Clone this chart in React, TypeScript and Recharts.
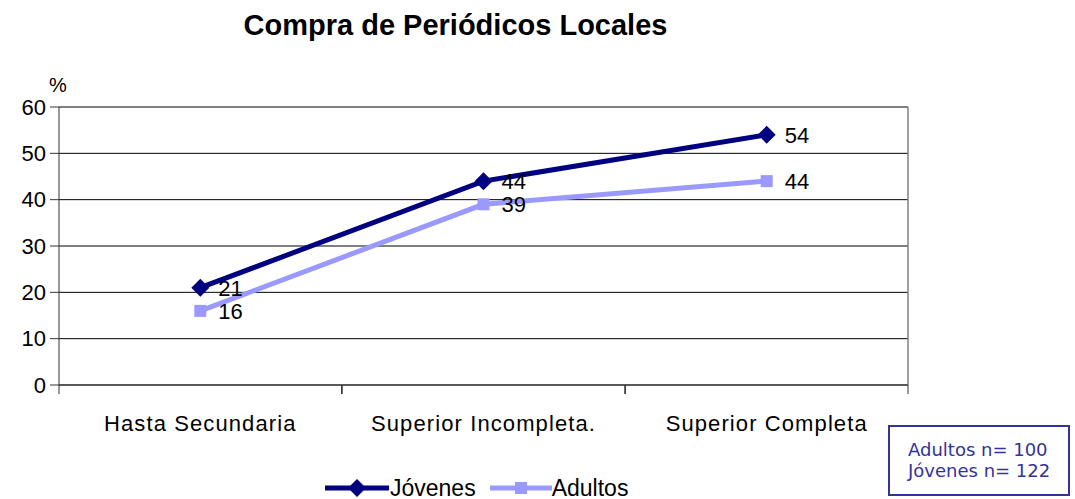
import React from "react";
import {
  LineChart,
  Line,
  XAxis,
  YAxis,
  CartesianGrid,
  LabelList,
} from "recharts";

const categories = ["Hasta Secundaria", "Superior Incompleta.", "Superior Completa"];
const jovenes = [21, 44, 54];
const adultos = [16, 39, 44];
const yTicks = [0, 10, 20, 30, 40, 50, 60];

const data = categories.map((name, i) => ({
  name,
  jovenes: jovenes[i],
  adultos: adultos[i],
}));

const FONT = '"Liberation Sans", Arial, sans-serif';
const NAVY = "#000080";
const LILAC = "#9999FF";
const HALF_BAND = 141.3;

function Diamond({ cx, cy }: any) {
  if (cx == null || cy == null) return null;
  const s = 9;
  return (
    <path
      d={`M${cx},${cy - s} L${cx + s},${cy} L${cx},${cy + s} L${cx - s},${cy} Z`}
      fill={NAVY}
    />
  );
}

function Square({ cx, cy }: any) {
  if (cx == null || cy == null) return null;
  const s = 6;
  return <rect x={cx - s} y={cy - s} width={s * 2} height={s * 2} fill={LILAC} />;
}

// category label in the middle, tick marks on the band edges (Excel style)
function XTick({ x, y, payload }: any) {
  return (
    <g>
      <line x1={x - HALF_BAND} y1={y} x2={x - HALF_BAND} y2={y + 9} stroke="#333" />
      <line x1={x + HALF_BAND} y1={y} x2={x + HALF_BAND} y2={y + 9} stroke="#333" />
      <text
        x={x}
        y={y + 46}
        textAnchor="middle"
        fontSize={22}
        fontFamily={FONT}
        letterSpacing={1.1}
        fill="#000"
      >
        {payload.value}
      </text>
    </g>
  );
}

export default function App() {
  return (
    <div
      style={{
        position: "absolute",
        left: 0,
        top: 0,
        width: 1075,
        height: 499,
        background: "#fff",
        fontFamily: FONT,
      }}
    >
      <div
        style={{
          position: "absolute",
          left: 0,
          width: 911,
          top: 9,
          textAlign: "center",
          fontSize: 29,
          fontWeight: "bold",
          color: "#000",
        }}
      >
        Compra de Periódicos Locales
      </div>
      <div style={{ position: "absolute", left: 49, top: 74, fontSize: 20 }}>%</div>

      <LineChart
        width={1075}
        height={499}
        data={data}
        margin={{ top: 107, right: 167, left: 0, bottom: 0 }}
      >
        <CartesianGrid vertical={false} stroke="#000" strokeWidth={1} />
        {/* gray frame on the top and right of the plot area */}
        <CartesianGrid
          stroke="#808080"
          strokeWidth={1.5}
          horizontalCoordinatesGenerator={({ offset }: any) => [offset.top]}
          verticalCoordinatesGenerator={({ offset }: any) => [offset.left + offset.width]}
        />
        <XAxis
          dataKey="name"
          height={114}
          stroke="#333"
          padding={{ left: HALF_BAND, right: HALF_BAND }}
          tickLine={false}
          tickSize={0}
          tickMargin={0}
          tick={<XTick />}
          interval={0}
        />
        <YAxis
          width={59}
          domain={[0, 60]}
          ticks={yTicks}
          stroke="#333"
          tickSize={9}
          tickMargin={4}
          tick={{ fontSize: 22, fill: "#000", fontFamily: FONT }}
        />
        <Line
          dataKey="adultos"
          stroke={LILAC}
          strokeWidth={5}
          dot={<Square />}
          activeDot={false}
          isAnimationActive={false}
        >
          <LabelList dataKey="adultos" position="right" offset={18} fontSize={22} fill="#000" fontFamily={FONT} />
        </Line>
        <Line
          dataKey="jovenes"
          stroke={NAVY}
          strokeWidth={5}
          dot={<Diamond />}
          activeDot={false}
          isAnimationActive={false}
        >
          <LabelList dataKey="jovenes" position="right" offset={18} fontSize={22} fill="#000" fontFamily={FONT} />
        </Line>
      </LineChart>

      <div
        style={{
          position: "absolute",
          top: 474,
          left: 325,
          display: "flex",
          alignItems: "center",
          fontSize: 23,
          lineHeight: "28px",
        }}
      >
        <svg width={64} height={20}>
          <line x1={0} y1={10} x2={64} y2={10} stroke={NAVY} strokeWidth={5} />
          <path d="M32,1 L41,10 L32,19 L23,10 Z" fill={NAVY} />
        </svg>
        <span style={{ marginLeft: 1 }}>Jóvenes</span>
        <svg width={62} height={20} style={{ marginLeft: 14 }}>
          <line x1={0} y1={10} x2={62} y2={10} stroke={LILAC} strokeWidth={5} />
          <rect x={25} y={4} width={12} height={12} fill={LILAC} />
        </svg>
        <span>Adultos</span>
      </div>

      <div
        style={{
          position: "absolute",
          left: 888,
          top: 425,
          width: 182,
          height: 71,
          boxSizing: "border-box",
          border: "2px solid #333399",
          color: "#333399",
          fontFamily: '"DejaVu Sans", Verdana, sans-serif',
          fontSize: 18,
          lineHeight: "21px",
          padding: "12px 0 0 18px",
        }}
      >
        <div>Adultos n= 100</div>
        <div>Jóvenes n= 122</div>
      </div>
    </div>
  );
}
